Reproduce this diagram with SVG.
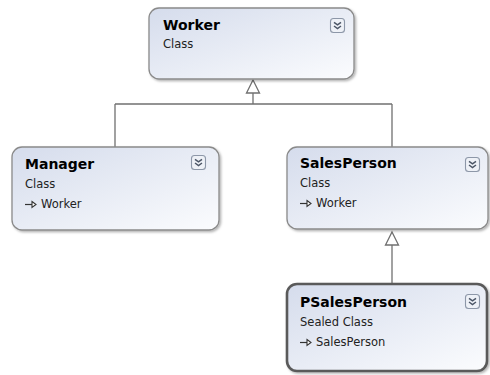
<svg xmlns="http://www.w3.org/2000/svg" width="490" height="375" viewBox="0 0 490 375">
<defs>
<linearGradient id="bg" x1="0" y1="0" x2="1" y2="1">
<stop offset="0" stop-color="#d5dcec"/>
<stop offset="1" stop-color="#fbfcfe"/>
</linearGradient>
<filter id="sh" x="-10%" y="-10%" width="130%" height="140%">
<feDropShadow dx="1.5" dy="1.5" stdDeviation="1.2" flood-color="#000" flood-opacity="0.3"/>
</filter>
<g id="exp">
<rect x="0.5" y="0.5" width="14" height="14" rx="3" fill="#eef1f7" stroke="#8d97a8" stroke-width="1.1"/>
<path d="M4 4.3 L7.5 6.8 L11 4.3 M4 8 L7.5 10.5 L11 8" fill="none" stroke="#4b5566" stroke-width="1.5"/>
</g>
<g id="inh">
<path d="M0 -3.5 H7" stroke="#333" stroke-width="1.2"/>
<path d="M7 -6.5 L11 -3.5 L7 -0.5 Z" fill="#fff" stroke="#333" stroke-width="1.1"/>
</g>
</defs>
<style>
.box{fill:url(#bg);stroke:#8a8a8a;stroke-width:1.3;filter:url(#sh)}
.sel{fill:url(#bg);stroke:#5a5a5a;stroke-width:2.6;filter:url(#sh)}
.t{font-family:"DejaVu Sans",Verdana,sans-serif;font-size:14px;font-weight:bold;fill:#000}
.s{font-family:"DejaVu Sans",Verdana,sans-serif;font-size:11.5px;fill:#222}
.ln{fill:none;stroke:#707070;stroke-width:1.3}
.tri{fill:#fff;stroke:#707070;stroke-width:1.3}
</style>
<rect width="490" height="375" fill="#fff"/>
<g id="connectors">
<path class="ln" d="M253 93 V104 M115 104 H392 M115 104 V147 M392 104 V147"/>
<path class="tri" d="M253 80 L259.5 93 L246.5 93 Z"/>
<path class="ln" d="M392 245 V283"/>
<path class="tri" d="M392 232 L398.5 245 L385.5 245 Z"/>
</g>
<g id="worker">
<rect class="box" x="149" y="8" width="205" height="71" rx="10"/>
<text class="t" x="163" y="30">Worker</text>
<text class="s" x="163" y="48">Class</text>
<use href="#exp" x="330" y="18"/>
</g>
<g id="manager">
<rect class="box" x="12" y="147" width="207" height="83" rx="10"/>
<text class="t" x="25" y="169">Manager</text>
<text class="s" x="25" y="188">Class</text>
<use href="#inh" x="25" y="208"/>
<text class="s" x="41" y="208">Worker</text>
<use href="#exp" x="191" y="155"/>
</g>
<g id="salesperson">
<rect class="box" x="287" y="147" width="201" height="82" rx="10"/>
<text class="t" x="300" y="168">SalesPerson</text>
<text class="s" x="300" y="187">Class</text>
<use href="#inh" x="300" y="207"/>
<text class="s" x="316" y="207">Worker</text>
<use href="#exp" x="465" y="157"/>
</g>
<g id="psalesperson">
<rect class="sel" x="287" y="284" width="200" height="87" rx="10"/>
<text class="t" x="300" y="307">PSalesPerson</text>
<text class="s" x="300" y="326">Sealed Class</text>
<use href="#inh" x="300" y="346"/>
<text class="s" x="316" y="346">SalesPerson</text>
<use href="#exp" x="465" y="294"/>
</g>
</svg>
